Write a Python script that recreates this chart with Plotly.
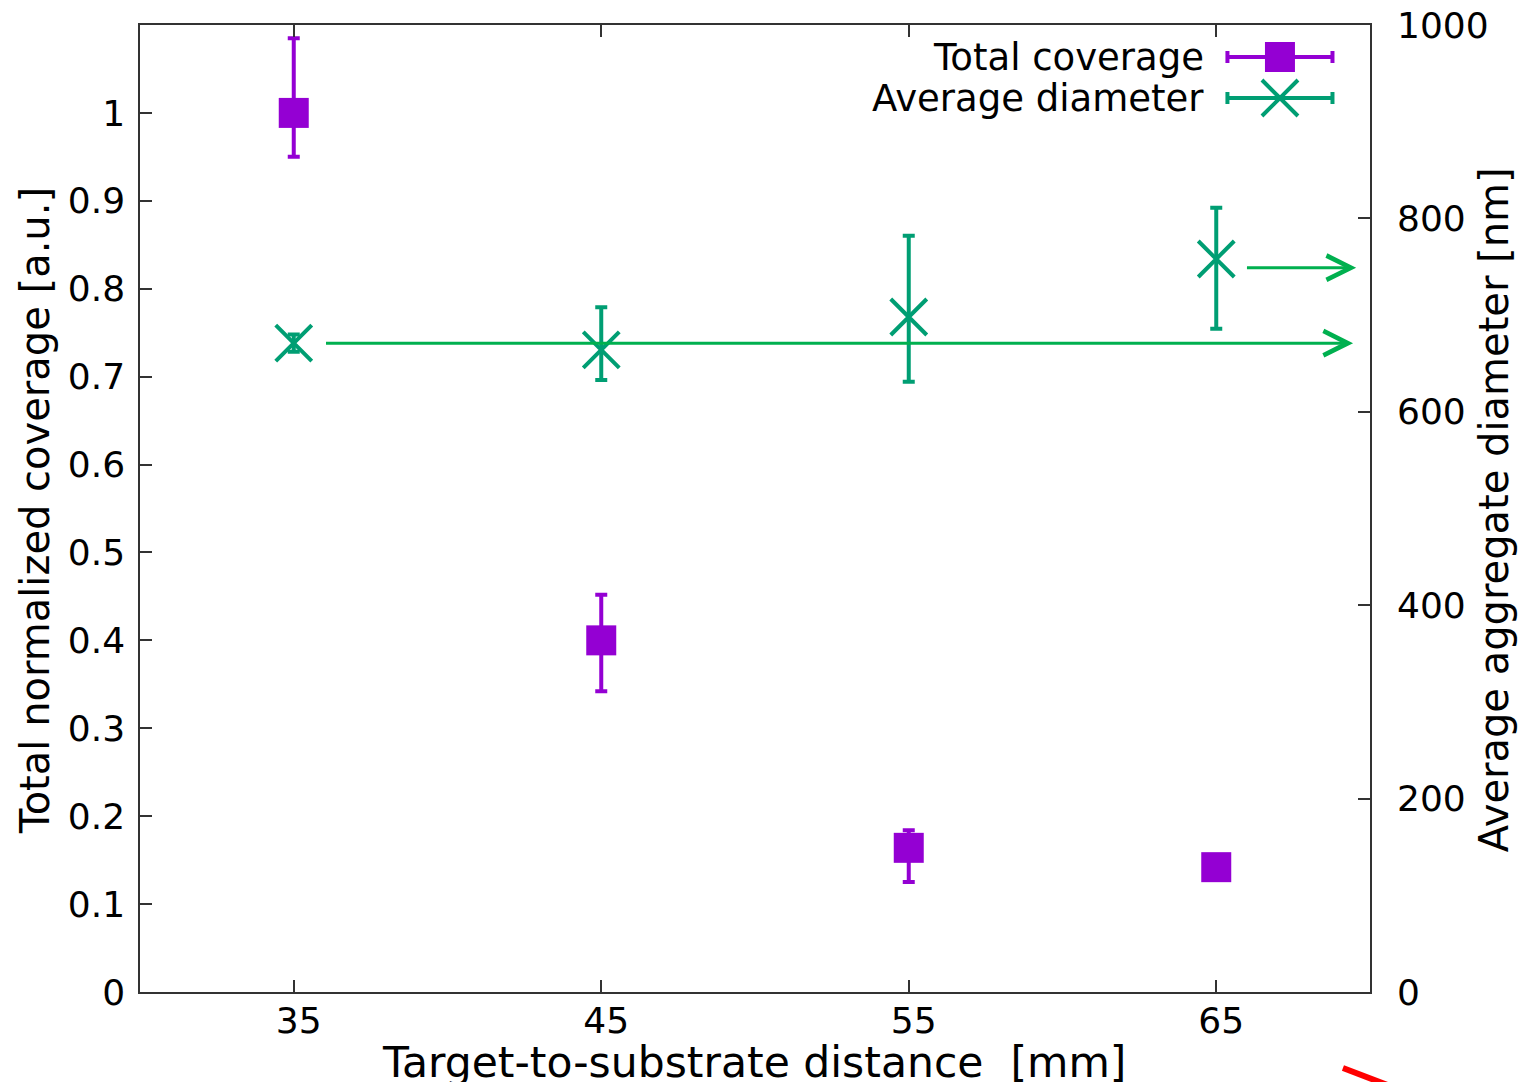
import plotly.graph_objects as go

# Target-to-substrate distance (mm)
distance = [35, 45, 55, 65]

# Total normalized coverage with asymmetric uncertainties
coverage = [1.0, 0.40, 0.164, 0.142]
coverage_err_plus = [0.085, 0.052, 0.020, 0.0]
coverage_err_minus = [0.050, 0.058, 0.039, 0.0]

# Average aggregate diameter (nm) with asymmetric uncertainties
diameter = [671, 664, 698, 758]
diameter_err_plus = [9, 44, 84, 53]
diameter_err_minus = [9, 31, 67, 72]

left_ticks = [0, 0.1, 0.2, 0.3, 0.4, 0.5, 0.6, 0.7, 0.8, 0.9, 1.0]
left_tick_text = ["0", "0.1", "0.2", "0.3", "0.4", "0.5", "0.6", "0.7", "0.8", "0.9", "1"]
right_ticks = [0, 200, 400, 600, 800, 1000]

PURPLE = "#9400D3"
GREEN = "#009E73"
ARROW_GREEN = "#00B04F"
FONT = "DejaVu Sans"
AXIS_COLOR = "#333333"

fig = go.Figure()

fig.add_trace(go.Scatter(
    x=distance, y=coverage, mode="markers", name="Total coverage",
    marker=dict(symbol="square", size=30, color=PURPLE),
    error_y=dict(type="data", symmetric=False, array=coverage_err_plus,
                 arrayminus=coverage_err_minus, color=PURPLE, thickness=4, width=6),
    showlegend=False,
))

fig.add_trace(go.Scatter(
    x=distance, y=diameter, mode="markers", name="Average diameter", yaxis="y2",
    marker=dict(symbol="x-thin-open", size=36, color=GREEN, line=dict(color=GREEN, width=4)),
    error_y=dict(type="data", symmetric=False, array=diameter_err_plus,
                 arrayminus=diameter_err_minus, color=GREEN, thickness=4, width=6),
    showlegend=False,
))

# Legend keys drawn on an auxiliary unit axis pair (0..1 spans the plot area)
legend_items = [
    ("Total coverage", PURPLE, dict(symbol="square", size=30, color=PURPLE), 0.9669),
    ("Average diameter", GREEN,
     dict(symbol="x-thin-open", size=36, color=GREEN, line=dict(color=GREEN, width=4)), 0.9245),
]
for label, color, marker, ypos in legend_items:
    fig.add_trace(go.Scatter(
        x=[0.9268], y=[ypos], mode="markers", xaxis="x3", yaxis="y3",
        marker=marker, showlegend=False, hoverinfo="skip",
        error_x=dict(type="data", array=[0.0427], color=color, thickness=4, width=6),
    ))
    fig.add_annotation(
        x=0.8665, y=ypos, xref="paper", yref="paper", text=label, showarrow=False,
        xanchor="right", yanchor="middle", font=dict(family=FONT, size=37, color="black"),
    )

# Arrows pointing to the right-hand axis
arrows = [
    (36.0, 69.45, diameter[0]),
    (65.95, 69.55, 749),
]
for x0, x1, yv in arrows:
    fig.add_annotation(
        x=x1, y=yv, ax=x0, ay=yv, xref="x", yref="y2", axref="x", ayref="y2",
        text="", showarrow=True, arrowhead=5, arrowsize=1.6, arrowwidth=3,
        arrowcolor=ARROW_GREEN, standoff=0, startstandoff=0,
    )

# Axis titles
fig.add_annotation(x=-0.0854, y=0.4984, xref="paper", yref="paper",
                   text="Total normalized coverage [a.u.]", textangle=-90, showarrow=False,
                   xanchor="center", yanchor="middle", font=dict(family=FONT, size=40, color="black"))
fig.add_annotation(x=1.101, y=0.4984, xref="paper", yref="paper",
                   text="Average aggregate diameter [nm]", textangle=-90, showarrow=False,
                   xanchor="center", yanchor="middle", font=dict(family=FONT, size=40, color="black"))
fig.add_annotation(x=0.4992, y=-0.0734, xref="paper", yref="paper",
                   text="Target-to-substrate distance&nbsp;&nbsp;[mm]", showarrow=False,
                   xanchor="center", yanchor="middle", font=dict(family=FONT, size=42.5, color="black"))

# Red stroke in the lower-right corner
fig.add_shape(type="line", xref="paper", yref="paper", x0=0.978, y0=-0.0786, x1=1.02, y1=-0.099,
              line=dict(color="#FF0000", width=6))

fig.update_layout(
    width=1520, height=1082,
    margin=dict(l=140, r=150, t=25, b=90, autoexpand=False),
    paper_bgcolor="white", plot_bgcolor="white",
    font=dict(family=FONT, size=36, color="black"),
    xaxis=dict(range=[30, 70], tickvals=distance, ticks="inside", ticklen=12,
               tickcolor=AXIS_COLOR, tickwidth=1.5, showline=True, linecolor=AXIS_COLOR,
               linewidth=1.5, mirror="ticks", showgrid=False, zeroline=False,
               automargin=False, ticklabelstandoff=-4, ticklabelshift=5,
               tickfont=dict(family=FONT, size=36, color="black")),
    yaxis=dict(range=[0, 1.1], tickvals=left_ticks, ticktext=left_tick_text, ticks="inside",
               ticklen=12, tickcolor=AXIS_COLOR, tickwidth=1.5, showline=True,
               linecolor=AXIS_COLOR, linewidth=1.5, mirror=True, showgrid=False, zeroline=False,
               automargin=False, ticklabelstandoff=6,
               tickfont=dict(family=FONT, size=36, color="black")),
    yaxis2=dict(range=[0, 1000], tickvals=right_ticks, overlaying="y", side="right",
                ticks="inside", ticklen=12, tickcolor=AXIS_COLOR, tickwidth=1.5,
                showline=False, showgrid=False, zeroline=False,
                automargin=False, ticklabelstandoff=26,
                tickfont=dict(family=FONT, size=36, color="black")),
    xaxis3=dict(range=[0, 1], overlaying="x", visible=False, fixedrange=True),
    yaxis3=dict(range=[0, 1], overlaying="y", visible=False, fixedrange=True, anchor="x3"),
)

fig.write_html("out.html")
